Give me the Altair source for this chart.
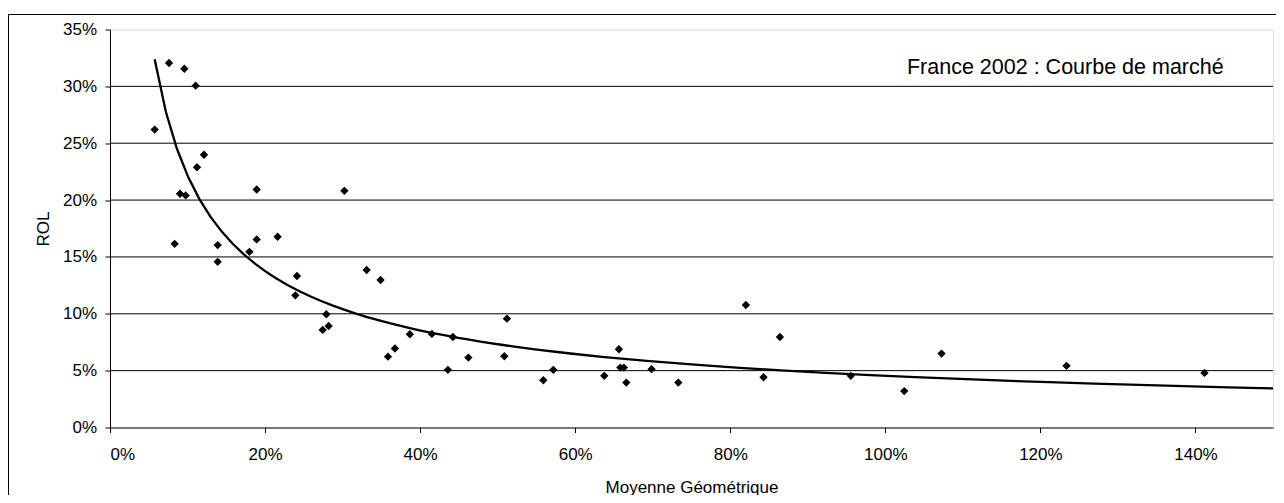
import altair as alt
import pandas as pd

# Scatter data (Moyenne Géométrique vs ROL)
x_vals = [0.0576, 0.0761, 0.0959, 0.1105, 0.1212, 0.1122, 0.0903, 0.0976, 0.0834, 0.1389,
          0.1389, 0.1798, 0.1892, 0.1892, 0.2162, 0.2411, 0.2391, 0.2790, 0.2743, 0.2820,
          0.3023, 0.3310, 0.3490, 0.3585, 0.3675, 0.3868, 0.4152, 0.4423, 0.4358, 0.4622,
          0.5086, 0.5119, 0.5589, 0.5718, 0.6375, 0.6564, 0.6582, 0.6628, 0.6659, 0.6985,
          0.7330, 0.8201, 0.8429, 0.8640, 0.9555, 1.0244, 1.0725, 1.2337, 1.4116]
y_vals = [0.2620, 0.3205, 0.3155, 0.3006, 0.2399, 0.2289, 0.2056, 0.2041, 0.1615, 0.1604,
          0.1457, 0.1545, 0.2093, 0.1654, 0.1677, 0.1332, 0.1162, 0.0996, 0.0858, 0.0893,
          0.2081, 0.1385, 0.1297, 0.0623, 0.0695, 0.0820, 0.0823, 0.0796, 0.0507, 0.0615,
          0.0627, 0.0957, 0.0416, 0.0507, 0.0454, 0.0688, 0.0527, 0.0527, 0.0395, 0.0513,
          0.0395, 0.1077, 0.0442, 0.0796, 0.0454, 0.0320, 0.0650, 0.0542, 0.0480]

x_ticks = [0, 0.2, 0.4, 0.6, 0.8, 1.0, 1.2, 1.4]
y_ticks = [0, 0.05, 0.10, 0.15, 0.20, 0.25, 0.30, 0.35]
grid_vals = [0.05, 0.10, 0.15, 0.20, 0.25, 0.30]
title_text = "France 2002 : Courbe de marché"
x_title = "Moyenne Géométrique"
y_title = "ROL"

FONT = "Liberation Sans"
W, H = 1163, 398

df = pd.DataFrame({"x": x_vals, "y": y_vals})
grid_df = pd.DataFrame({"y": grid_vals})
one = pd.DataFrame({"a": [0]})

xscale = alt.Scale(domain=[0, 1.5], nice=False, zero=False)
yscale = alt.Scale(domain=[0, 0.35], nice=False)

xaxis = alt.Axis(values=x_ticks, format=".0%", grid=False, domainColor="black",
                 tickColor="black", tickSize=5, labelFontSize=17, labelFont=FONT,
                 labelColor="black", labelPadding=14, title=x_title, titleFont=FONT,
                 titleFontSize=17, titleFontWeight="normal", titleColor="black",
                 titleY=64.5, titleBaseline="alphabetic")
yaxis = alt.Axis(values=y_ticks, format=".0%", grid=False, domainColor="black",
                 tickColor="black", tickSize=5, labelFontSize=17, labelFont=FONT,
                 labelColor="black", labelPadding=8.5, title=y_title, titleFont=FONT,
                 titleFontSize=17, titleFontWeight="normal", titleColor="black",
                 titleX=-61.8, titleY=H / 2, titleAngle=270, titleBaseline="alphabetic")

frame = alt.Chart(one).mark_rect(fillOpacity=0, stroke="black", strokeWidth=1).encode(
    x=alt.value(-101.5), x2=alt.value(1400), y=alt.value(-15), y2=alt.value(700)
)

grid = alt.Chart(grid_df).mark_rule(color="black", strokeWidth=1).encode(
    y=alt.Y("y:Q", scale=yscale, axis=yaxis)
)

points = alt.Chart(df).mark_point(shape="diamond", filled=True, size=70, color="black", opacity=1).encode(
    x=alt.X("x:Q", scale=xscale, axis=xaxis),
    y=alt.Y("y:Q", scale=yscale, axis=yaxis),
)

curve = alt.Chart(df).transform_regression(
    "x", "y", method="pow", extent=[min(x_vals), 1.5]
).mark_line(color="black", strokeWidth=2.3).encode(
    x=alt.X("x:Q", scale=xscale, axis=xaxis),
    y=alt.Y("y:Q", scale=yscale, axis=yaxis),
)

title = alt.Chart(one).mark_text(align="right", baseline="alphabetic", fontSize=21.5,
                                 font=FONT, color="black").encode(
    x=alt.value(1113.7), y=alt.value(44), text=alt.value(title_text)
)

chart = alt.layer(frame, grid, points, curve, title).properties(
    width=W, height=H,
    autosize=alt.AutoSizeParams(type="none"),
    padding={"left": 102, "top": 21.5, "right": 3, "bottom": 67.5},
).configure_view(stroke="#808080", strokeWidth=1).configure(background="white")

chart.save("out.html", embed_options={"renderer": "svg", "actions": False})
